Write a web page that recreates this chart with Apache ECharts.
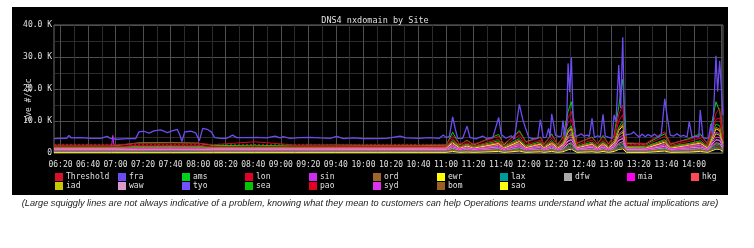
<!DOCTYPE html>
<html>
<head>
<meta charset="utf-8">
<script src="https://cdn.jsdelivr.net/npm/echarts@6/dist/echarts.min.js"></script>
<style>
html,body{margin:0;padding:0;background:#fff;}
#chart{width:754px;height:248px;}
</style>
</head>
<body>
<div id="chart"></div>
<script>
// Time is in minutes after 06:20, values are in thousands (K) per second.
const tickMinutes = [0,20,40,60,80,100,120,140,160,180,200,220,240,260,280,300,320,340,360,380,400,420,440,460];
const tickLabels = ['06:20','06:40','07:00','07:20','07:40','08:00','08:20','08:40','09:00','09:20','09:40','10:00','10:20','10:40','11:00','11:20','11:40','12:00','12:20','12:40','13:00','13:20','13:40','14:00'];
const gridMinutes = [0,10,20,30,40,50,60,70,80,90,100,110,120,130,140,150,160,170,180,190,200,210,220,230,240,250,260,270,280,290,300,310,320,330,340,350,360,370,380,390,400,410,420,430,440,450,460,470,480];
const yLabelValues = [0,10,20,30,40];

const fraPoints = [
[-4.7,4.5],[0.1,4.6],[4.5,4.6],[6.2,5.5],[7.9,4.7],[14.6,4.8],[21.9,4.6],[29.2,4.6],[34,5.2],[36,4.6],
[41.2,4.3],[48.5,4.5],[54.6,4.5],[57,6.6],[60.6,6.8],[64.3,6.2],[67.9,6.9],[72.8,7.2],[77.6,6.4],[81.2,6.9],
[84.8,7.4],[86.8,5.5],[88.2,3.6],[90.2,6.6],[94.6,6.8],[98.2,6.3],[100.8,3.8],[103.3,7.7],[106.6,7.4],[109.5,6.6],
[112,4.8],[116.3,4.6],[120.7,4.6],[125,5.6],[128,4.8],[135.2,4.8],[142.5,4.9],[149.7,4.7],[155.8,5.3],[159.4,4.7],
[161.8,5.1],[166.7,4.6],[173.9,4.8],[181.2,4.9],[188.5,4.7],[195.7,4.6],[200.6,5.2],[205.4,4.5],[212.6,4.7],[219.9,4.5],
[228.4,4.5],[236.9,4.6],[246.6,5.3],[250.9,4.7],[260.6,4.6],[267.8,4.8],[275.1,4.6],[278,5.6],[280,4.8],[282.4,5.2],
[284.8,11.3],[286.7,7.5],[288.4,4.6],[292.1,4.6],[295.2,8.4],[297.4,4.8],[301.7,4.4],[306.6,5.3],[309,4.6],[313.9,4.8],
[318.2,11.1],[320.1,5.8],[323.5,4.6],[327.2,5.4],[329.6,4.4],[333.2,15.2],[335.7,10.5],[337.5,8.0],[340,4.9],[342.9,4.5],
[346.6,4.6],[348.5,10.4],[350.6,4.8],[352.6,4.9],[354.5,7.7],[355.5,4.9],[356.7,12.2],[358.2,8.8],[359.4,5.6],[361.8,5.1],
[363.7,5.3],[364.9,10.1],[366.2,5.2],[367.6,9.0],[368.6,28.0],[369.8,19.0],[371,29.9],[372.2,12.0],[373.9,5.1],[376.3,5.5],
[378.2,6.0],[380,5.3],[382.4,5.6],[384,5.2],[386,10.8],[387.7,4.9],[390.1,5.4],[392,5.0],[394,12.1],[395.6,5.3],
[398.1,4.9],[400.5,4.6],[402,11.9],[403.4,9.8],[405.4,27.5],[406.8,14.0],[408.3,36.2],[409.7,5.6],[412.1,5.8],[414.5,6.0],
[416.3,6.6],[417.9,5.8],[420.4,5.0],[422.3,5.9],[424.7,5.1],[426.7,5.8],[429.1,5.2],[431.5,5.9],[433.9,4.9],[436.3,6.0],
[438.8,16.9],[440.7,11.0],[442.8,5.6],[445.3,5.3],[447.7,6.0],[450.1,5.2],[452.6,5.5],[455,5.0],[456.6,9.8],[458.6,5.0],
[461.5,5.3],[463.5,5.0],[464.6,13.4],[466.6,4.8],[468.8,4.6],[470.7,4.8],[472.2,9.0],[473.6,5.6],[476,30.4],[477.2,19.2],
[478.7,28.8],[481.1,11.9]
];

const siteTimes = [-4.7,20,37,38,39,57,80,100,111,141,170,200,230,260,280,284.8,290,295.2,300,318.2,322,333.2,338,348.5,351,356.7,361,364.9,368.6,371,375,386,390,394,398,402,405.4,408.3,411,425,438.8,443,456.6,464.6,470,476,478.7,481.1];

const thresholdTimes = [-4.7,481.1];
const thresholdVals = [2.7,2.7];

const amsVals = [2.2,2.2,2.2,2.3,2.2,3.2,3.3,3.1,2.3,2.4, 2.2,2.2,2.3,2.3,2.4,6.5,2.5,4.0,2.5,5.8, 2.5,7.0,3.5,5.0,2.6,6.0,2.6,5.0,13.0,16.0, 3.0,5.0,2.8,5.5,2.8,5.5,14.5,23.0,3.0,2.8, 6.0,2.8,4.5,6.0,2.8,16.0,13.0,6.0];
const lonVals = [2.5,2.5,2.5,2.6,2.5,3.0,3.1,3.0,2.6,3.5, 2.5,2.6,2.5,2.5,2.6,5.5,2.8,3.8,2.8,5.2, 2.9,6.5,3.3,4.8,2.9,5.5,2.9,4.6,11.0,13.0, 3.2,4.8,3.0,5.0,3.0,5.2,12.0,15.0,3.2,3.0, 6.6,3.0,4.2,5.5,3.0,12.5,14.0,5.0];
const paoVals = [2.0,2.0,2.0,2.0,2.0,2.4,2.5,2.4,2.0,2.1, 2.0,2.0,2.0,2.0,2.1,4.5,2.2,3.2,2.2,4.3, 2.2,5.5,2.6,4.0,2.3,4.6,2.3,3.8,9.5,10.5, 2.5,4.0,2.4,4.2,2.4,4.4,10.0,12.0,2.5,2.4, 5.2,2.4,3.6,4.6,2.4,10.5,11.0,4.2];
const seaVals = [1.8,1.8,1.8,1.8,1.8,2.1,2.2,2.1,1.8,1.8, 1.8,1.9,1.9,1.9,2.0,4.0,2.0,2.8,2.0,3.8, 2.0,4.5,2.2,3.5,2.0,3.9,2.0,3.3,7.5,8.5, 2.1,3.4,2.0,3.6,2.0,3.8,8.0,10.0,2.1,2.0, 4.2,2.0,3.0,3.8,2.0,9.0,8.5,3.6];
const hkgVals = [1.7,1.7,1.7,1.7,1.7,1.9,2.0,1.9,1.7,1.7, 1.7,1.7,1.7,1.7,1.8,3.5,1.8,2.5,1.8,3.3, 1.8,4.0,2.0,3.0,1.8,3.4,1.8,2.9,7.0,8.0, 1.9,3.0,1.8,3.2,1.8,3.3,7.5,9.0,1.9,1.8, 3.8,1.8,2.7,3.4,1.8,8.0,7.5,3.2];
const sinVals = [1.5,1.5,1.5,5.5,1.5,1.6,1.6,1.6,1.5,1.5, 1.5,1.5,1.5,1.5,1.5,2.8,1.6,2.0,1.6,2.7, 1.6,3.2,1.7,2.5,1.6,2.8,1.6,2.4,5.5,6.5, 1.7,2.5,1.6,2.6,1.6,2.7,6.0,7.0,1.7,1.6, 3.0,1.6,2.2,2.8,1.6,6.5,6.0,2.6];
const sydVals = [1.3,1.3,1.3,1.3,1.3,1.4,1.4,1.4,1.3,1.3, 1.3,1.3,1.3,1.3,1.3,2.3,1.3,1.8,1.3,2.2, 1.3,2.6,1.4,2.0,1.3,2.3,1.3,2.0,4.5,5.0, 1.4,2.1,1.3,2.2,1.3,2.2,4.8,5.5,1.4,1.3, 2.5,1.3,1.8,2.3,1.3,5.0,4.8,2.1];
const ewrVals = [1.4,1.4,1.4,1.4,1.4,1.5,1.5,1.5,1.4,1.4, 1.4,1.4,1.4,1.4,1.5,3.2,1.5,2.2,1.5,3.0, 1.5,3.6,1.7,2.8,1.5,3.1,1.5,2.7,6.5,7.5, 1.6,2.8,1.5,3.0,1.5,3.1,7.0,8.5,1.6,1.5, 3.4,1.5,2.5,3.1,1.5,7.5,7.0,3.0];
const iadVals = [1.1,1.1,1.1,1.1,1.1,1.2,1.2,1.2,1.1,1.1, 1.1,1.1,1.1,1.1,1.1,2.5,1.2,1.8,1.2,2.4, 1.2,2.9,1.3,2.2,1.2,2.5,1.2,2.2,5.0,5.8, 1.2,2.2,1.2,2.4,1.2,2.4,5.5,6.5,1.2,1.2, 2.6,1.2,1.9,2.4,1.2,6.0,5.5,2.3];
const wawVals = [1.2,1.2,1.2,1.2,1.2,1.3,1.3,1.3,1.2,1.2, 1.2,1.2,1.2,1.2,1.2,2.0,1.2,1.6,1.2,1.9, 1.2,2.3,1.3,1.8,1.2,2.0,1.2,1.8,3.8,4.2, 1.3,1.8,1.2,1.9,1.2,1.9,4.0,4.6,1.3,1.2, 2.1,1.2,1.6,1.9,1.2,4.2,4.0,1.9];
const miaVals = [1.0,1.0,1.0,1.0,1.0,1.1,1.1,1.1,1.0,1.0, 1.0,1.0,1.0,1.0,1.0,1.8,1.0,1.4,1.0,1.7, 1.0,2.0,1.1,1.6,1.0,1.8,1.0,1.6,3.5,4.0, 1.1,1.6,1.0,1.7,1.0,1.7,3.8,4.5,1.1,1.0, 1.9,1.0,1.4,1.7,1.0,4.0,3.8,1.7];
const dfwVals = [0.9,0.9,0.9,0.9,0.9,0.9,1.0,0.9,0.9,0.9, 0.9,0.9,0.9,0.9,0.9,1.5,0.9,1.2,0.9,1.4, 0.9,1.7,1.0,1.3,0.9,1.5,0.9,1.3,2.8,3.2, 1.0,1.3,0.9,1.4,0.9,1.4,3.0,3.6,1.0,0.9, 1.6,0.9,1.2,1.4,0.9,3.2,3.0,1.4];
const ordVals = [0.8,0.8,0.8,0.8,0.8,0.8,0.9,0.8,0.8,0.8, 0.8,0.8,0.8,0.8,0.8,1.3,0.8,1.0,0.8,1.2, 0.8,1.5,0.9,1.1,0.8,1.3,0.8,1.1,2.4,2.8, 0.9,1.1,0.8,1.2,0.8,1.2,2.6,3.0,0.9,0.8, 1.4,0.8,1.0,1.2,0.8,2.8,2.6,1.2];
const laxVals = [0.7,0.7,0.7,0.7,0.7,0.7,0.8,0.7,0.7,0.7, 0.7,0.7,0.7,0.7,0.7,1.1,0.7,0.9,0.7,1.0, 0.7,1.2,0.8,1.0,0.7,1.1,0.7,1.0,2.0,2.3, 0.8,1.0,0.7,1.0,0.7,1.0,2.2,2.6,0.8,0.7, 1.2,0.7,0.9,1.0,0.7,2.3,2.2,1.0];
const bomVals = [0.6,0.6,0.6,0.6,0.6,0.6,0.6,0.6,0.6,0.6, 0.6,0.6,0.6,0.6,0.6,0.9,0.6,0.7,0.6,0.9, 0.6,1.0,0.6,0.8,0.6,0.9,0.6,0.8,1.6,1.9, 0.6,0.8,0.6,0.9,0.6,0.9,1.8,2.1,0.6,0.6, 1.0,0.6,0.7,0.9,0.6,1.9,1.8,0.9];
const tyoVals = [0.5,0.5,0.5,0.5,0.5,0.6,0.6,0.6,0.5,0.5, 0.5,0.5,0.5,0.5,0.5,0.8,0.5,0.6,0.5,0.8, 0.5,0.9,0.5,0.7,0.5,0.8,0.5,0.7,1.4,1.6, 0.5,0.7,0.5,0.8,0.5,0.8,1.5,1.8,0.5,0.5, 0.9,0.5,0.6,0.8,0.5,1.6,1.5,0.8];
const saoVals = [0.2,0.2,0.2,0.2,0.2,0.2,0.2,0.2,0.2,0.2, 0.2,0.2,0.2,0.2,0.2,0.5,0.2,0.3,0.2,0.5, 0.2,0.6,0.2,0.4,0.2,0.5,0.2,0.4,1.0,1.2, 0.2,0.4,0.2,0.5,0.2,0.5,1.1,1.3,0.2,0.2, 0.6,0.2,0.3,0.5,0.2,1.2,1.1,0.5];

const legendColumns = [
  ['Threshold','iad'],['fra','waw'],['ams','tyo'],['lon','sea'],['sin','pao'],
  ['ord','syd'],['ewr','bom'],['lax','sao'],['dfw'],['mia'],['hkg']
];

const MONO = 'DejaVu Sans Mono';
const pair = (ts, vs) => ts.map((t, i) => [t, vs[i]]);

const seriesDefs = [
  {name:'Threshold', color:'#d8102c', data:pair(thresholdTimes, thresholdVals), dashed:true},
  {name:'fra', color:'#6c4cf2', data:fraPoints, width:1.3, z:5},
  {name:'ams', color:'#00d21e', data:pair(siteTimes, amsVals)},
  {name:'lon', color:'#e0002a', data:pair(siteTimes, lonVals), z:3},
  {name:'sin', color:'#d02cf0', data:pair(siteTimes, sinVals)},
  {name:'ord', color:'#a0642c', data:pair(siteTimes, ordVals)},
  {name:'ewr', color:'#ffff00', data:pair(siteTimes, ewrVals)},
  {name:'lax', color:'#009a9a', data:pair(siteTimes, laxVals)},
  {name:'dfw', color:'#aaaaaa', data:pair(siteTimes, dfwVals)},
  {name:'mia', color:'#ff00f0', data:pair(siteTimes, miaVals)},
  {name:'hkg', color:'#ff4858', data:pair(siteTimes, hkgVals)},
  {name:'iad', color:'#c8c800', data:pair(siteTimes, iadVals)},
  {name:'waw', color:'#dd99cc', data:pair(siteTimes, wawVals)},
  {name:'tyo', color:'#7050ff', data:pair(siteTimes, tyoVals)},
  {name:'sea', color:'#00c800', data:pair(siteTimes, seaVals)},
  {name:'pao', color:'#e00022', data:pair(siteTimes, paoVals)},
  {name:'syd', color:'#e030f0', data:pair(siteTimes, sydVals)},
  {name:'bom', color:'#9a5e28', data:pair(siteTimes, bomVals)},
  {name:'sao', color:'#ffff10', data:pair(siteTimes, saoVals)}
];

const legendLefts = [55,118,182,245,309,373,437,500,564,627,691];

const chart = echarts.init(document.getElementById('chart'), null, {renderer:'canvas'});
chart.setOption({
  animation: false,
  backgroundColor: '#ffffff',
  title: {
    text: 'DNS4 nxdomain by Site',
    left: 370, top: 11, textAlign: 'center',
    textStyle: {color:'#e0e0e0', fontFamily: MONO, fontSize: 8.5, fontWeight: 'normal'}
  },
  graphic: [
    {type:'rect', z:-10, shape:{x:12, y:7, width:716, height:188}, style:{fill:'#000000'}},
    {type:'text', z:10, x:29, y:100, rotation: Math.PI/2,
      style:{text:'ave #/sec', fill:'#d8d8d8', font:'8px "DejaVu Sans Mono"', align:'center', verticalAlign:'middle'}},
    {type:'text', z:10, x:370, y:203,
      style:{text:'(Large squiggly lines are not always indicative of a problem, knowing what they mean to customers can help Operations teams understand what the actual implications are)',
        fill:'#222222', font:'italic 9.2px "Liberation Sans"', align:'center', verticalAlign:'middle'}}
  ],
  legend: legendColumns.map((col, i) => ({
    data: col, left: legendLefts[i], top: 173, orient: 'vertical',
    padding: 0, itemGap: 1, itemWidth: 8, itemHeight: 8, icon: 'rect',
    selectedMode: false,
    textStyle: {color:'#e0e0e0', fontFamily: MONO, fontSize: 8, padding:[0,0,0,-2]}
  })),
  grid: {left: 54, right: 31, top: 25, bottom: 95, show: true, borderColor: '#6a6a6a', borderWidth: 1, backgroundColor: 'transparent'},
  xAxis: {
    type: 'value', min: -4.7, max: 481.1,
    axisLine: {show:false},
    axisTick: {show:false, customValues: gridMinutes},
    axisLabel: {
      customValues: tickMinutes, color:'#e0e0e0', fontFamily: MONO, fontSize: 8, margin: 8,
      formatter: v => tickLabels[tickMinutes.indexOf(v)] || ''
    },
    splitLine: {show:true, lineStyle:{color:['#4e4e4e','#2c2c2c'], width:1}}
  },
  yAxis: {
    type: 'value', min: 0, max: 40, interval: 5,
    axisLine: {show:false}, axisTick: {show:false},
    axisLabel: {
      color:'#e0e0e0', fontFamily: MONO, fontSize: 8, margin: 2,
      formatter: v => yLabelValues.indexOf(v) < 0 ? '' : (v === 0 ? '0' : v.toFixed(1) + ' K')
    },
    splitLine: {show:true, lineStyle:{color:['#4e4e4e','#2c2c2c'], width:1}}
  },
  series: seriesDefs.map(s => ({
    name: s.name, type: 'line', data: s.data, showSymbol: false, symbol: 'none',
    z: s.z || 2, color: s.color,
    itemStyle: {color: s.color},
    lineStyle: {color: s.color, width: s.width || 1, type: s.dashed ? [2,2] : 'solid'},
    emphasis: {disabled: true}
  }))
});
</script>
</body>
</html>
